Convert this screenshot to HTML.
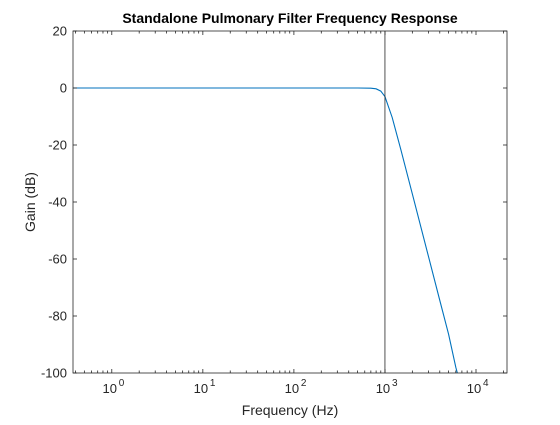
<!DOCTYPE html>
<html><head><meta charset="utf-8"><style>
body{margin:0;background:#fff;}
svg text{font-family:"Liberation Sans",Arial,sans-serif;}
</style></head><body>
<svg id="chart" width="560" height="420" xmlns="http://www.w3.org/2000/svg">
<rect width="560" height="420" fill="#fff"/>
<rect x="73" y="31" width="434" height="342" fill="#fff"/>
<defs><clipPath id="clip"><rect x="73" y="31" width="434" height="342"/></clipPath></defs>
<g id="grid"></g>
<path id="curve" fill="none" stroke="#0072BD" stroke-width="1.1" clip-path="url(#clip)"/>
<line id="cutoff" stroke="#262626" stroke-width="0.8"/>
<rect x="73" y="31" width="434" height="342" fill="none" stroke="#262626" stroke-width="0.8"/>
<g id="ticks"></g>
<text x="290" y="23" text-anchor="middle" font-size="14" font-weight="bold" fill="#000">Standalone Pulmonary Filter Frequency Response</text>
<text x="290" y="415" text-anchor="middle" font-size="14" fill="#262626">Frequency (Hz)</text>
<text x="35" y="202" text-anchor="middle" font-size="14" fill="#262626" transform="rotate(-90 35 202)">Gain (dB)</text>
</svg>
<script>
const freqs = [0.37,1,10,100,300,500,700,800,900,1000,1200,1500,2000,3000,4000,5000,6000,7000];
const gains = [0,0,0,0,0,0,-0.06,-0.29,-1.08,-3.01,-10.3,-21.8,-37.2,-59.0,-74.5,-86.4,-98.0,-106.0];
const cutoffFreq = [1000];
const yTicks = [20,0,-20,-40,-60,-80,-100];
const xDecades = [0,1,2,3,4];
const NS='http://www.w3.org/2000/svg';
const L=73,R=507,T=31,B=373;
const xMinLog=Math.log10(0.375), xMaxLog=Math.log10(21900);
const X=f=>L+(Math.log10(f)-xMinLog)/(xMaxLog-xMinLog)*(R-L);
const Y=v=>T+(20-v)/120*(B-T);
function mk(tag,attrs,parent){const e=document.createElementNS(NS,tag);for(const k in attrs)e.setAttribute(k,attrs[k]);parent.appendChild(e);return e;}
document.getElementById('curve').setAttribute('d',freqs.map((f,i)=>(i?'L':'M')+X(f).toFixed(2)+','+Y(gains[i]).toFixed(2)).join(''));
const c=document.getElementById('cutoff');
c.setAttribute('x1',X(cutoffFreq[0]));c.setAttribute('x2',X(cutoffFreq[0]));c.setAttribute('y1',T);c.setAttribute('y2',B);
const tg=document.getElementById('ticks');
yTicks.forEach(v=>{
  const y=Y(v);
  const t1=mk('line',{x1:L,x2:L+4,y1:y,y2:y,stroke:'#262626','stroke-width':0.8},tg);
  
  
  mk('line',{x1:R,x2:R-4,y1:y,y2:y,stroke:'#262626','stroke-width':0.8},tg);
  const tx=mk('text',{x:L-6,y:y+4.5,'text-anchor':'end','font-size':13,fill:'#262626'},tg);
  tx.textContent=v;
  
  
});
for(let d=-1;d<=4;d++){
  for(let m=1;m<10;m++){
    const f=m*Math.pow(10,d);const x=X(f);
    if(x<L-0.5||x>R+0.5)continue;
    const len=m===1?4:2.5;
    mk('line',{x1:x,x2:x,y1:B,y2:B-len,stroke:'#262626','stroke-width':0.8},tg);
    mk('line',{x1:x,x2:x,y1:T,y2:T+len,stroke:'#262626','stroke-width':0.8},tg);
  }
}
xDecades.forEach(d=>{
  const x=X(Math.pow(10,d));
  const tx=mk('text',{x:x-2,y:B+20,'text-anchor':'middle','font-size':13,fill:'#262626'},tg);
  tx.textContent='10';
  
  
  const sp=mk('text',{x:x+7,y:B+13,'font-size':10,fill:'#262626'},tg);
  sp.textContent=d;
  
  
});
</script>
</body></html>
